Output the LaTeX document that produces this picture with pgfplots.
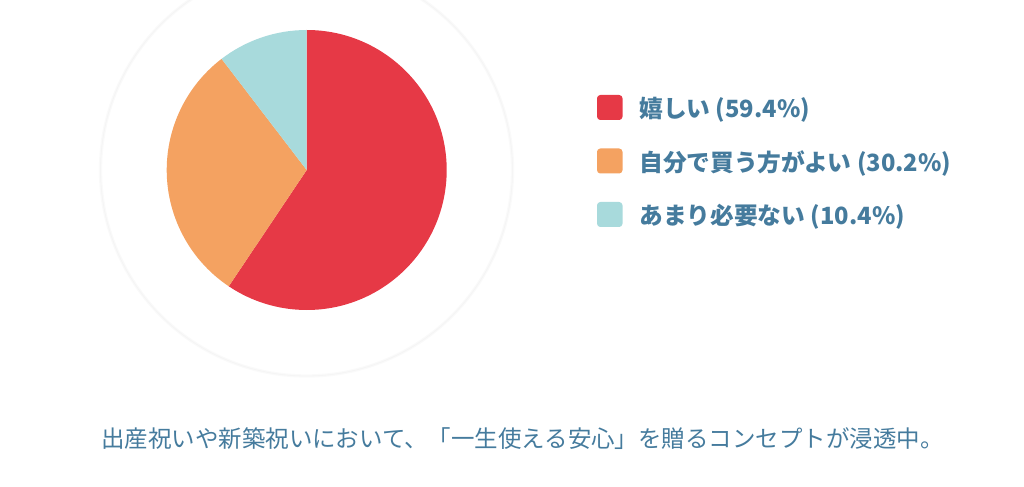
\documentclass[border=0pt]{standalone}
\usepackage{pgfplots}
\pgfplotsset{compat=1.18}
\usepackage{fontspec}
\setmainfont{Lato}
\newfontfamily\cjk{Noto Sans CJK JP}
\definecolor{pieRed}{HTML}{E63946}
\definecolor{pieOrange}{HTML}{F4A261}
\definecolor{pieTeal}{HTML}{A8DADC}
\definecolor{txt}{HTML}{457B9D}
% shares (percent)
\def\vA{59.4}
\def\vB{30.2}
\def\vC{10.4}
\pgfmathsetmacro\angA{90}
\pgfmathsetmacro\angB{\angA-\vA*3.6}
\pgfmathsetmacro\angC{\angB-\vB*3.6}
\pgfmathsetmacro\angD{\angC-\vC*3.6}
\begin{document}
\begin{tikzpicture}
\useasboundingbox (0,0) rectangle (768pt,364.5pt);
\begin{axis}[at={(0,0)}, anchor=south west, scale only axis,
  width=768pt, height=364.5pt, xmin=0, xmax=1024, ymin=0, ymax=486,
  hide axis, clip=false]
% faint background disc outline
\draw[black!2, line width=2.5pt] (axis cs:306.5,316) circle[radius=154.5pt];
\draw[black!4, line width=0.6pt] (axis cs:306.5,316) circle[radius=154.5pt];
% pie slices
\fill[pieRed] (axis cs:306.7,316) -- ++(\angA:105pt) arc[start angle=\angA, end angle=\angB, radius=105pt] -- cycle;
\fill[pieOrange] (axis cs:306.7,316) -- ++(\angB:105pt) arc[start angle=\angB, end angle=\angC, radius=105pt] -- cycle;
\fill[pieTeal] (axis cs:306.7,316) -- ++(\angC:105pt) arc[start angle=\angC, end angle=\angD, radius=105pt] -- cycle;
% legend
\fill[pieRed, rounded corners=2.5pt] (axis cs:597,391) rectangle (axis cs:622.5,366);
\fill[pieOrange, rounded corners=2.5pt] (axis cs:597,337.5) rectangle (axis cs:622.5,312.5);
\fill[pieTeal, rounded corners=2.5pt] (axis cs:597,284) rectangle (axis cs:622.5,259);
\node[anchor=base west, inner sep=0, text=txt, font=\fontsize{17.8pt}{20pt}\selectfont\cjk\bfseries] at (axis cs:639,486-117.8) {嬉しい (59.4\%)};
\node[anchor=base west, inner sep=0, text=txt, font=\fontsize{17.8pt}{20pt}\selectfont\cjk\bfseries] at (axis cs:639,486-171.3) {自分で買う方がよい (30.2\%)};
\node[anchor=base west, inner sep=0, text=txt, font=\fontsize{17.8pt}{20pt}\selectfont\cjk\bfseries] at (axis cs:639,486-224.8) {あまり必要ない (10.4\%)};
% caption
\node[anchor=base west, inner sep=0, text=txt, font=\fontsize{17.6pt}{20pt}\selectfont\cjk] at (axis cs:101,486-447.4) {出産祝いや新築祝いにおいて、「一生使える安心」を贈るコンセプトが浸透中。};
\end{axis}
\end{tikzpicture}
\end{document}
